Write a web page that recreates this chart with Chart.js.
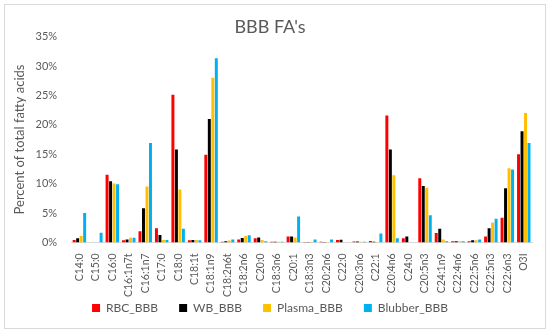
<!DOCTYPE html>
<html>
<head>
<meta charset="utf-8">
<script src="https://cdn.jsdelivr.net/npm/chart.js@4/dist/chart.umd.min.js"></script>
<style>
  body { margin:0; background:#fff; }
  #wrap { width:550px; height:335px; position:relative; }
</style>
</head>
<body>
<div id="wrap"><canvas id="myChart" width="550" height="335"></canvas></div>
<script>
// fatty acid categories along the x axis
let labels = ['C14:0','C15:0','C16:0','C16:1n7t','C16:1n7','C17:0','C18:0','C18:1t','C18:1n9','C18:2n6t',
  'C18:2n6','C20:0','C18:3n6','C20:1','C18:3n3','C20:2n6','C22:0','C20:3n6','C22:1','C20:4n6',
  'C24:0','C20:5n3','C24:1n9','C22:4n6','C22:5n6','C22:5n3','C22:6n3','O3I'];

// percent of total fatty acids
let rbc     = [0.4, 0.0, 11.5, 0.35, 1.9, 2.4, 25.1, 0.35, 14.9, 0.1, 0.5, 0.7, 0.1, 1.0, 0.05, 0.1, 0.4, 0.15, 0.25, 21.6, 0.7, 10.9, 1.6, 0.2, 0.2, 1.0, 4.2, 15.0];
let wb      = [0.7, 0.0, 10.4, 0.5, 5.8, 1.25, 15.8, 0.4, 21.0, 0.2, 0.75, 0.85, 0.1, 1.0, 0.05, 0.05, 0.45, 0.15, 0.1, 15.8, 1.0, 9.6, 2.3, 0.2, 0.35, 2.4, 9.2, 18.9];
let plasma  = [1.1, 0.0, 10.0, 0.8, 9.5, 0.4, 9.0, 0.4, 28.0, 0.3, 1.1, 0.4, 0.1, 0.85, 0.05, 0.05, 0.0, 0.1, 0.05, 11.4, 0.0, 9.3, 0.5, 0.2, 0.35, 3.4, 12.6, 22.0];
let blubber = [5.0, 1.65, 9.9, 0.8, 16.9, 0.4, 2.3, 0.35, 31.3, 0.5, 1.2, 0.2, 0.1, 4.4, 0.5, 0.5, 0.0, 0.1, 1.5, 0.7, 0.0, 4.6, 0.2, 0.2, 0.5, 4.0, 12.4, 16.9];

let seriesNames = ['RBC_BBB','WB_BBB','Plasma_BBB','Blubber_BBB'];
let colors = ['#ff0000','#000000','#ffc000','#00b0f0'];
let yTicks = [0,5,10,15,20,25,30,35];

Chart.defaults.font.family = 'Lato, "Open Sans", sans-serif';
Chart.defaults.color = '#595959';

// thin grey frame round the whole chart
let frame = {
  id:'frame',
  beforeDraw(c){
    let ctx = c.ctx;
    ctx.save();
    ctx.strokeStyle = '#d9d9d9';
    ctx.lineWidth = 1;
    ctx.strokeRect(4.5, 4.5, 541, 324);
    ctx.restore();
  }
};

// keep wide gaps between legend items but less space above them
let LEGEND_CUT = 19;
let legendTight = {
  id:'legendTight',
  beforeLayout(c){
    let lg = c.legend;
    if (!lg || lg._tight) return;
    lg._tight = true;
    let fit = lg.fit;
    lg.fit = function(){ fit.call(this); this.height -= LEGEND_CUT; };
    let draw = lg.draw;
    lg.draw = function(){ this.top -= LEGEND_CUT; draw.call(this); this.top += LEGEND_CUT; };
  }
};

let allSeries = [rbc, wb, plasma, blubber];
let chart1 = new Chart(document.getElementById('myChart').getContext('2d'), {
  type:'bar',
  data:{
    labels:labels,
    datasets: allSeries.map((d,i)=>({
      label:seriesNames[i],
      data:d,
      backgroundColor:colors[i],
      barPercentage:0.85,
      categoryPercentage:0.85
    }))
  },
  options:{
    responsive:false,
    animation:false,
    layout:{ padding:{ left:8, right:18, top:10, bottom:11 } },
    plugins:{
      title:{ display:true, text:"BBB FA's", font:{ size:18, weight:'normal' }, color:'#595959', padding:{ top:6, bottom:-1 } },
      legend:{
        position:'bottom',
        labels:{ boxWidth:8, boxHeight:8, font:{ size:12 }, color:'#595959', padding:21 }
      },
      tooltip:{ enabled:false }
    },
    scales:{
      x:{
        grid:{ display:false },
        border:{ color:'#d9d9d9' },
        ticks:{ minRotation:90, maxRotation:90, autoSkip:false, font:{ size:10.5 }, color:'#595959', padding:3 }
      },
      y:{
        min:0, max:35,
        afterBuildTicks(ax){ ax.ticks = yTicks.map(v=>({ value:v })); },
        grid:{ display:false },
        border:{ display:false },
        ticks:{ callback:v=>v+'%', font:{ size:11 }, color:'#595959', padding:6 },
        title:{ display:true, text:'Percent of total fatty acids', font:{ size:13 }, color:'#595959', padding:{ bottom:2 } }
      }
    }
  },
  plugins:[frame, legendTight]
});
</script>
</body>
</html>
